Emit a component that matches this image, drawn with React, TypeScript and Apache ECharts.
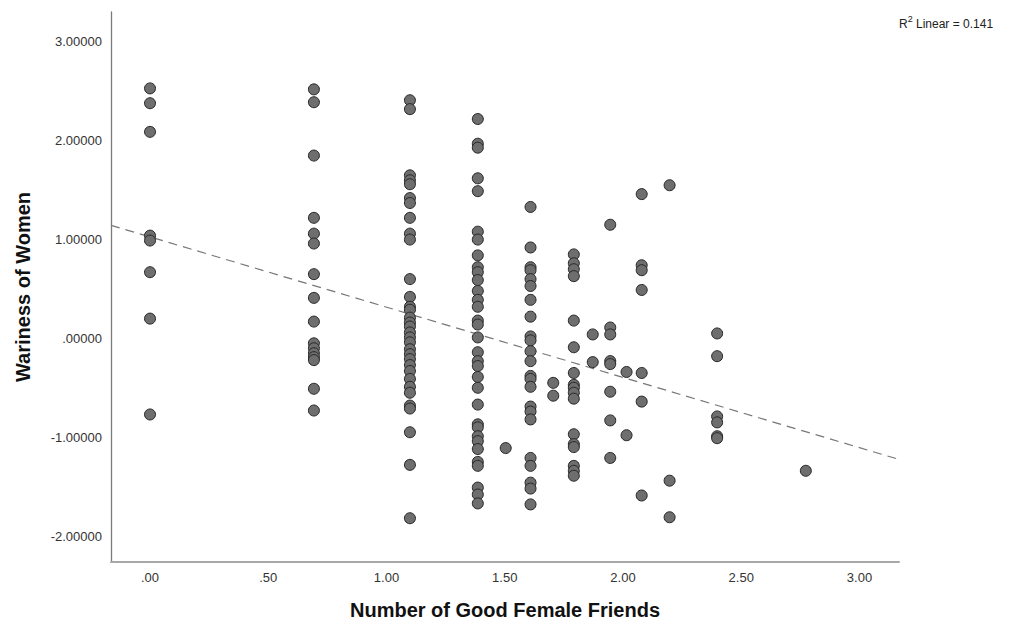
import React, { useEffect, useRef } from "react";
import * as echarts from "echarts";

// x positions of the friend-count groups (log scale values) and Wariness values
const groupX: number[] = [0, 0.693, 1.099, 1.386, 1.504, 1.609, 1.705, 1.792, 1.872, 1.946, 2.015, 2.079, 2.197, 2.398, 2.773];

const y_000: number[] = [2.53, 2.38, 2.09, 1.04, 0.99, 0.67, 0.2, -0.77];
const y_069: number[] = [2.52, 2.39, 1.85, 1.22, 1.06, 0.96, 0.65, 0.41, 0.17, -0.05, -0.1, -0.15, -0.19, -0.22, -0.51, -0.73];
const y_110: number[] = [2.41, 2.32, 1.65, 1.6, 1.56, 1.42, 1.37, 1.22, 1.06, 1.0, 0.6, 0.42, 0.32, 0.29, 0.21, 0.16, 0.12, 0.06, 0.01, -0.04, -0.11, -0.16, -0.21, -0.27, -0.33, -0.41, -0.49, -0.55, -0.68, -0.71, -0.95, -1.28, -1.82];
const y_139: number[] = [2.22, 1.97, 1.93, 1.62, 1.49, 1.08, 1.0, 0.84, 0.72, 0.67, 0.59, 0.48, 0.39, 0.32, 0.18, 0.14, 0.01, -0.14, -0.23, -0.28, -0.39, -0.5, -0.67, -0.87, -0.9, -0.99, -1.04, -1.12, -1.25, -1.29, -1.51, -1.58, -1.67];
const y_150: number[] = [-1.11];
const y_161: number[] = [1.33, 0.92, 0.72, 0.69, 0.6, 0.53, 0.39, 0.22, 0.02, -0.02, -0.13, -0.23, -0.38, -0.41, -0.49, -0.69, -0.74, -0.82, -1.21, -1.29, -1.46, -1.52, -1.68];
const y_171: number[] = [-0.45, -0.58];
const y_179: number[] = [0.85, 0.76, 0.7, 0.63, 0.18, -0.09, -0.35, -0.47, -0.5, -0.55, -0.61, -0.97, -1.07, -1.1, -1.29, -1.34, -1.39];
const y_187: number[] = [0.04, -0.24];
const y_195: number[] = [1.15, 0.11, 0.04, -0.23, -0.26, -0.54, -0.83, -1.21];
const y_202: number[] = [-0.34, -0.98];
const y_208: number[] = [1.46, 0.74, 0.69, 0.49, -0.35, -0.64, -1.59];
const y_220: number[] = [1.55, -1.44, -1.81];
const y_240: number[] = [0.05, -0.18, -0.79, -0.85, -0.99, -1.01];
const y_277: number[] = [-1.34];

const groupY: number[][] = [y_000, y_069, y_110, y_139, y_150, y_161, y_171, y_179, y_187, y_195, y_202, y_208, y_220, y_240, y_277];

// fit line
const fitIntercept = 1.027;
const fitSlope = -0.711;
const rSquaredText = "0.141";

const xMin = -0.165;
const xMax = 3.167;
const yMin = -2.263;
const yMax = 3.303;
const xTicks: number[] = [0, 0.5, 1, 1.5, 2, 2.5, 3];
const yTicks: number[] = [-2, -1, 0, 1, 2, 3];

const FONT = "'Liberation Sans', Arial, sans-serif";

function stripZero(s: string): string {
  return s.replace(/^0\./, ".").replace(/^-0\./, "-.");
}

export default function App() {
  const ref = useRef<HTMLDivElement>(null);
  useEffect(() => {
    if (!ref.current) return;
    const chart = echarts.init(ref.current, undefined, { renderer: "svg" });
    const points: number[][] = [];
    groupX.forEach((x, i) => {
      groupY[i].forEach((y) => points.push([x, y]));
    });
    chart.setOption({
      animation: false,
      backgroundColor: "#ffffff",
      grid: { left: 111, top: 12, right: 110, bottom: 62 },
      xAxis: {
        type: "value",
        min: xMin,
        max: xMax,
        axisLine: { show: true, onZero: false, lineStyle: { color: "#a8a8a8", width: 2 } },
        axisTick: { show: false },
        splitLine: { show: false },
        axisLabel: {
          customValues: xTicks,
          formatter: (v: number) => stripZero(v.toFixed(2)),
          color: "#333",
          fontSize: 13,
          fontFamily: FONT,
          margin: 9,
        },
        name: "Number of Good Female Friends",
        nameLocation: "middle",
        nameGap: 38,
        nameTextStyle: { fontSize: 20, fontWeight: "bold", color: "#111", fontFamily: FONT },
      },
      yAxis: {
        type: "value",
        min: yMin,
        max: yMax,
        axisLine: { show: true, onZero: false, lineStyle: { color: "#7a7a7a", width: 1.3 } },
        axisTick: { show: false },
        splitLine: { show: false },
        axisLabel: {
          customValues: yTicks,
          formatter: (v: number) => stripZero(v.toFixed(5)),
          color: "#333",
          fontSize: 13,
          fontFamily: FONT,
          margin: 9,
        },
        name: "Wariness of Women",
        nameLocation: "middle",
        nameGap: 78,
        nameRotate: 90,
        nameTextStyle: { fontSize: 20, fontWeight: "bold", color: "#111", fontFamily: FONT },
      },
      graphic: [
        {
          type: "text",
          left: 899,
          top: 14,
          style: {
            text: "{a|R}{b|2}{a| Linear = " + rSquaredText + "}",
            rich: {
              a: { fontSize: 12, fontFamily: FONT, fill: "#222", verticalAlign: "bottom", lineHeight: 16 },
              b: { fontSize: 9, fontFamily: FONT, fill: "#222", verticalAlign: "top", lineHeight: 16, padding: [0, 0, 6, 0] },
            },
          },
        },
      ],
      series: [
        {
          type: "line",
          data: [
            [xMin, fitIntercept + fitSlope * xMin],
            [xMax, fitIntercept + fitSlope * xMax],
          ],
          showSymbol: false,
          symbol: "none",
          lineStyle: { color: "#777", width: 1.2, type: [9, 6] },
          z: 1,
          silent: true,
        },
        {
          type: "scatter",
          data: points,
          symbol: "circle",
          symbolSize: 11,
          itemStyle: { color: "#6e6e6e", borderColor: "#262626", borderWidth: 1, opacity: 1 },
          z: 2,
        },
      ],
    });
    return () => chart.dispose();
  }, []);
  return <div ref={ref} style={{ position: "fixed", left: 0, top: 0, width: 1009, height: 625 }} />;
}
